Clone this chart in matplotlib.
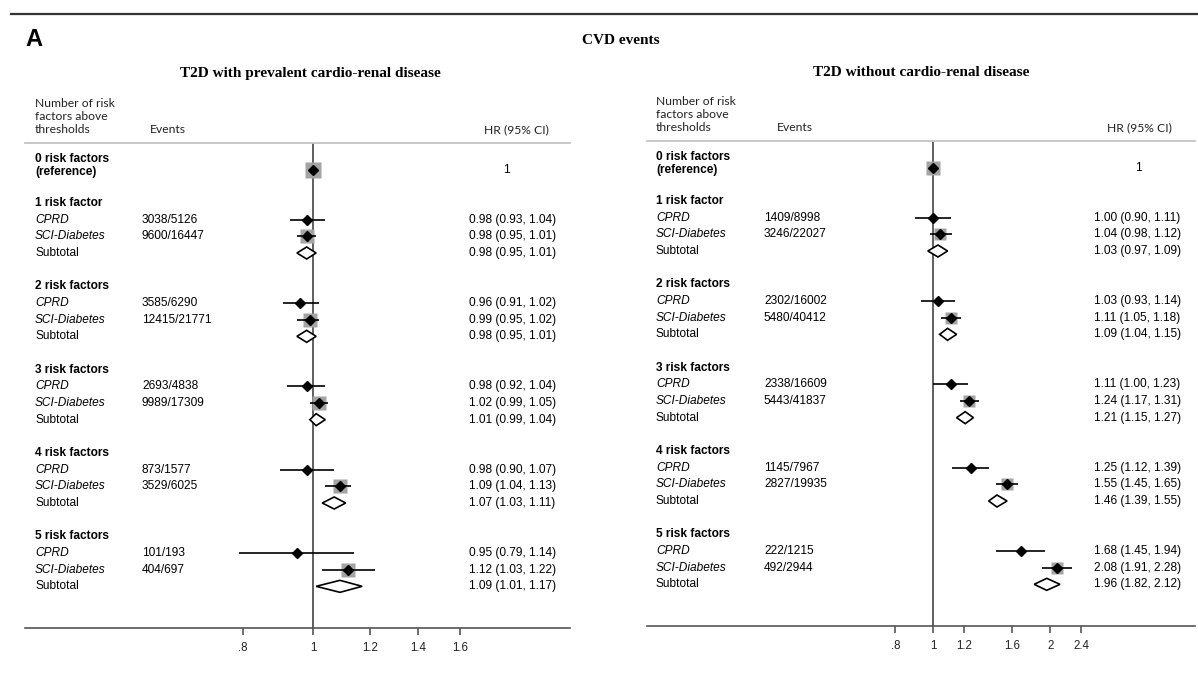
import matplotlib
matplotlib.use("Agg")
import numpy as np
import matplotlib.pyplot as plt
from matplotlib.patches import Polygon
from matplotlib.ticker import NullLocator
from matplotlib.transforms import blended_transform_factory

# data: left panel (T2D with prevalent cardio-renal disease)
groups = ["1 risk factor", "2 risk factors", "3 risk factors", "4 risk factors", "5 risk factors"]

l_cprd_events = ["3038/5126", "3585/6290", "2693/4838", "873/1577", "101/193"]
l_cprd_hr = [0.98, 0.96, 0.98, 0.98, 0.95]
l_cprd_lo = [0.93, 0.91, 0.92, 0.90, 0.79]
l_cprd_hi = [1.04, 1.02, 1.04, 1.07, 1.14]
l_sci_events = ["9600/16447", "12415/21771", "9989/17309", "3529/6025", "404/697"]
l_sci_hr = [0.98, 0.99, 1.02, 1.09, 1.12]
l_sci_lo = [0.95, 0.95, 0.99, 1.04, 1.03]
l_sci_hi = [1.01, 1.02, 1.05, 1.13, 1.22]
l_sub_hr = [0.98, 0.98, 1.01, 1.07, 1.09]
l_sub_lo = [0.95, 0.95, 0.99, 1.03, 1.01]
l_sub_hi = [1.01, 1.01, 1.04, 1.11, 1.17]

# data: right panel (T2D without cardio-renal disease)
r_cprd_events = ["1409/8998", "2302/16002", "2338/16609", "1145/7967", "222/1215"]
r_cprd_hr = [1.00, 1.03, 1.11, 1.25, 1.68]
r_cprd_lo = [0.90, 0.93, 1.00, 1.12, 1.45]
r_cprd_hi = [1.11, 1.14, 1.23, 1.39, 1.94]
r_sci_events = ["3246/22027", "5480/40412", "5443/41837", "2827/19935", "492/2944"]
r_sci_hr = [1.04, 1.11, 1.24, 1.55, 2.08]
r_sci_lo = [0.98, 1.05, 1.17, 1.45, 1.91]
r_sci_hi = [1.12, 1.18, 1.31, 1.65, 2.28]
r_sub_hr = [1.03, 1.09, 1.21, 1.46, 1.96]
r_sub_lo = [0.97, 1.04, 1.15, 1.39, 1.82]
r_sub_hi = [1.09, 1.15, 1.27, 1.55, 2.12]

l_ticks = [0.8, 1, 1.2, 1.4, 1.6]
l_ticklabels = [".8", "1", "1.2", "1.4", "1.6"]
r_ticks = [0.8, 1, 1.2, 1.6, 2, 2.4]
r_ticklabels = [".8", "1", "1.2", "1.6", "2", "2.4"]

W, H = 1198, 675
fig = plt.figure(figsize=(W / 100, H / 100), dpi=100)

SANS = "Liberation Sans"
HEAD = "Lato"
SERIF = "Liberation Serif"
FS = 8.6
HFS = 8.7


def fmt(h, lo, hi):
    return f"{h:.2f} ({lo:.2f}, {hi:.2f})"


def n_events(s):
    return int(s.split("/")[0])


def draw_panel(x0, x1, ytop, ybot, one_px, px_per_ln, cols, ticks, ticklabels, ref_box, study_box,
               cprd_ev, cprd_hr, cprd_lo, cprd_hi, sci_ev, sci_hr, sci_lo, sci_hi,
               sub_hr, sub_lo, sub_hi):
    ax = fig.add_axes([x0 / W, 1 - ybot / H, (x1 - x0) / W, (ybot - ytop) / H])
    ax.set_xscale("log")
    ax.set_xlim(np.exp((x0 - one_px) / px_per_ln), np.exp((x1 - one_px) / px_per_ln))
    ax.set_ylim(25.5, -3.6)
    for s in ["top", "left", "right"]:
        ax.spines[s].set_visible(False)
    ax.spines["bottom"].set_color("#555555")
    ax.spines["bottom"].set_linewidth(1.2)
    ax.set_yticks([])
    ax.set_xticks(ticks)
    ax.set_xticklabels(ticklabels, fontfamily=SANS)
    ax.xaxis.set_minor_locator(NullLocator())
    ax.tick_params(axis="x", direction="out", length=5, width=1.2, color="#555555",
                   labelsize=8.3, pad=5, labelcolor="#222222")
    ax.axvline(1, color="#444444", lw=1.2, zorder=1)
    ax.axhline(-3.6, color="#c4c4c4", lw=1.3, clip_on=False)

    tr = blended_transform_factory(fig.transFigure, ax.transData)
    lab_x, ev_x, evh_x, hr_x, hrh_x, one_x = [c / W for c in cols]

    # column headers
    for txt, yy in [("Number of risk", -5.95), ("factors above", -5.17), ("thresholds", -4.39)]:
        ax.text(lab_x, yy, txt, transform=tr, fontsize=HFS, family=HEAD, va="center", color="#222222")
    ax.text(evh_x, -4.39, "Events", transform=tr, fontsize=HFS, family=HEAD, va="center", color="#222222")
    ax.text(hrh_x, -4.39, "HR (95% CI)", transform=tr, fontsize=HFS, family=HEAD, va="center",
            ha="right", color="#222222")

    # reference row
    ax.text(lab_x, -2.65, "0 risk factors", transform=tr, fontsize=FS, family=SANS, weight="bold", va="center")
    ax.text(lab_x, -1.85, "(reference)", transform=tr, fontsize=FS, family=SANS, weight="bold", va="center")
    ax.plot([1], [-2.0], "s", ms=ref_box, color="#a4a4a4", mec="none", zorder=2)
    ax.plot([1], [-2.0], "D", ms=5, color="black", zorder=4)
    ax.text(one_x, -2.0, "1", transform=tr, fontsize=FS, family=SANS, va="center", ha="center")

    for g in range(len(groups)):
        y = 5 * g
        ax.text(lab_x, y, groups[g], transform=tr, fontsize=FS, family=SANS, weight="bold", va="center")
        ax.text(lab_x, y + 1, "CPRD", transform=tr, fontsize=FS, family=SANS, style="italic", va="center")
        ax.text(lab_x, y + 2, "SCI-Diabetes", transform=tr, fontsize=FS, family=SANS, style="italic", va="center")
        ax.text(lab_x, y + 3, "Subtotal", transform=tr, fontsize=FS, family=SANS, va="center")
        ax.text(ev_x, y + 1, cprd_ev[g], transform=tr, fontsize=FS, family=SANS, va="center")
        ax.text(ev_x, y + 2, sci_ev[g], transform=tr, fontsize=FS, family=SANS, va="center")
        ax.text(hr_x, y + 1, fmt(cprd_hr[g], cprd_lo[g], cprd_hi[g]), transform=tr, fontsize=FS,
                family=SANS, va="center")
        ax.text(hr_x, y + 2, fmt(sci_hr[g], sci_lo[g], sci_hi[g]), transform=tr, fontsize=FS,
                family=SANS, va="center")
        ax.text(hr_x, y + 3, fmt(sub_hr[g], sub_lo[g], sub_hi[g]), transform=tr, fontsize=FS,
                family=SANS, va="center")

        # box size follows the study's share of events in the subgroup
        wc = n_events(cprd_ev[g])
        ws = n_events(sci_ev[g])
        for hr, lo, hi, w, yy in [(cprd_hr[g], cprd_lo[g], cprd_hi[g], wc, y + 1),
                                  (sci_hr[g], sci_lo[g], sci_hi[g], ws, y + 2)]:
            frac = w / (wc + ws)
            ax.plot([hr], [yy], "s", ms=study_box * frac, color="#a4a4a4", mec="none", zorder=2)
            ax.plot([lo, hi], [yy, yy], color="black", lw=1.2, zorder=3, solid_capstyle="butt")
            ax.plot([hr], [yy], "D", ms=5, color="black", zorder=4)

        yy = y + 3
        ax.add_patch(Polygon([[sub_lo[g], yy], [sub_hr[g], yy - 0.36], [sub_hi[g], yy],
                              [sub_hr[g], yy + 0.36]], closed=True, facecolor="white",
                             edgecolor="black", lw=1.2, zorder=4))
    return ax


# left panel
draw_panel(25, 570, 143, 628, 313, 313, [35, 142, 150, 469, 549, 506], l_ticks, l_ticklabels, 11, 13,
           l_cprd_events, l_cprd_hr, l_cprd_lo, l_cprd_hi, l_sci_events, l_sci_hr, l_sci_lo, l_sci_hi,
           l_sub_hr, l_sub_lo, l_sub_hi)
# right panel
draw_panel(647, 1195, 141, 626, 933, 169, [656, 764, 777, 1094, 1172, 1138], r_ticks, r_ticklabels, 9.5, 11.5,
           r_cprd_events, r_cprd_hr, r_cprd_lo, r_cprd_hi, r_sci_events, r_sci_hr, r_sci_lo, r_sci_hi,
           r_sub_hr, r_sub_lo, r_sub_hi)

# overall titles and decorations
fig.add_artist(plt.Line2D([11 / W, 1], [1 - 14 / H, 1 - 14 / H], color="#333333", lw=1.6))
fig.text(25 / W, 1 - 40 / H, "A", fontsize=17, family=SANS, weight="bold", va="center", ha="left")
fig.text(621 / W, 1 - 40 / H, "CVD events", fontsize=11, family=SERIF, weight="bold", va="center", ha="center")
fig.text(310 / W, 1 - 74 / H, "T2D with prevalent cardio-renal disease", fontsize=11, family=SERIF,
         weight="bold", va="center", ha="center")
fig.text(921 / W, 1 - 72 / H, "T2D without cardio-renal disease", fontsize=11, family=SERIF,
         weight="bold", va="center", ha="center")

fig.savefig("out.png", dpi=100)
